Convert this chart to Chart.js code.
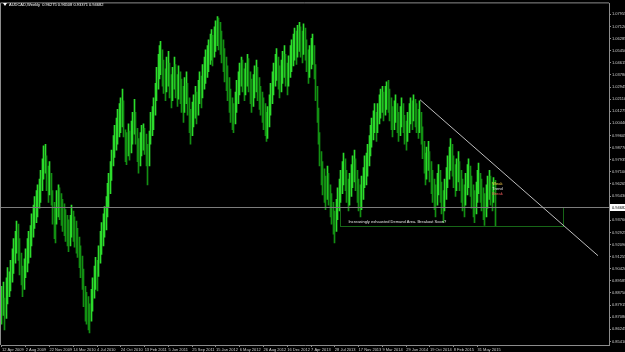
<!DOCTYPE html>
<html>
<head>
<meta charset="utf-8">
<script src="https://cdn.jsdelivr.net/npm/chart.js@4.4.1/dist/chart.umd.min.js"></script>
<style>
    html, body { margin: 0; padding: 0; background: #000; }
    canvas { display: block; }
</style>
</head>
<body>
<canvas id="audcadChart" width="625" height="352"></canvas>
<script>
// AUDCAD weekly, one entry per week starting 12 Apr 2009
const lows = [
    0.866, 0.872, 0.862, 0.870, 0.880, 0.885, 0.889, 0.895, 0.901, 0.908,
    0.915, 0.910, 0.900, 0.893, 0.885, 0.890, 0.898, 0.902, 0.908, 0.912,
    0.920, 0.926, 0.932, 0.936, 0.940, 0.946, 0.950, 0.958, 0.966, 0.970,
    0.958, 0.950, 0.955, 0.948, 0.935, 0.925, 0.922, 0.935, 0.940, 0.938,
    0.934, 0.930, 0.927, 0.923, 0.920, 0.916, 0.920, 0.926, 0.923, 0.919,
    0.915, 0.912, 0.905, 0.898, 0.890, 0.878, 0.868, 0.866, 0.862, 0.860,
    0.868, 0.875, 0.884, 0.890, 0.889, 0.899, 0.908, 0.914, 0.920, 0.926,
    0.931, 0.940, 0.947, 0.956, 0.965, 0.975, 0.981, 0.986, 0.990, 0.995,
    0.998, 1.002, 0.995, 0.978, 0.976, 0.982, 0.979, 0.984, 0.990, 0.997,
    0.990, 0.978, 0.970, 0.975, 0.982, 0.986, 0.983, 0.975, 0.962, 0.975,
    0.990, 0.996, 1.000, 1.010, 1.020, 1.028, 1.035, 1.038, 1.030, 1.025,
    1.020, 1.026, 1.030, 1.022, 1.015, 1.020, 1.028, 1.022, 1.016, 1.021,
    1.018, 1.012, 1.005, 1.012, 1.018, 1.010, 0.998, 0.990, 0.996, 1.002,
    1.008, 1.004, 1.010, 1.018, 1.015, 1.022, 1.028, 1.032, 1.036, 1.040,
    1.045, 1.048, 1.044, 1.050, 1.054, 1.058, 1.055, 1.052, 1.046, 1.040,
    1.033, 1.027, 1.020, 1.012, 1.005, 1.000, 0.998, 1.004, 1.012, 1.018,
    1.024, 1.030, 1.026, 1.020, 1.024, 1.030, 1.026, 1.018, 1.012, 1.016,
    1.022, 1.026, 1.020, 1.014, 1.010, 1.005, 1.000, 0.996, 0.992, 0.994,
    1.002, 1.010, 1.018, 1.024, 1.030, 1.034, 1.028, 1.022, 1.026, 1.032,
    1.036, 1.030, 1.024, 1.030, 1.036, 1.040, 1.044, 1.048, 1.045, 1.050,
    1.054, 1.050, 1.046, 1.052, 1.048, 1.040, 1.032, 1.036, 1.042, 1.045,
    1.035, 1.020, 1.005, 0.990, 0.975, 0.962, 0.955, 0.950, 0.945, 0.952,
    0.948, 0.940, 0.935, 0.928, 0.922, 0.930, 0.938, 0.944, 0.950, 0.956,
    0.962, 0.958, 0.950, 0.944, 0.948, 0.954, 0.960, 0.964, 0.958, 0.950,
    0.944, 0.940, 0.945, 0.952, 0.960, 0.962, 0.968, 0.975, 0.982, 0.988,
    0.993, 0.998, 0.992, 0.998, 1.004, 1.008, 1.012, 1.006, 1.010, 1.014,
    1.012, 1.006, 1.000, 0.995, 1.000, 1.005, 0.998, 0.992, 0.996, 1.002,
    0.998, 0.990, 0.986, 0.992, 0.998, 1.004, 1.000, 1.006, 1.002, 0.998,
    0.994, 0.998, 0.990, 0.980, 0.970, 0.962, 0.966, 0.972, 0.964, 0.956,
    0.950, 0.945, 0.940, 0.948, 0.955, 0.950, 0.942, 0.936, 0.944, 0.952,
    0.960, 0.966, 0.972, 0.968, 0.960, 0.954, 0.958, 0.964, 0.958, 0.950,
    0.944, 0.940, 0.948, 0.955, 0.960, 0.954, 0.946, 0.940, 0.936, 0.942,
    0.950, 0.956, 0.950, 0.944, 0.938, 0.934, 0.940, 0.946, 0.952, 0.948,
    0.944, 0.950, 0.93371
];
const highs = [
    0.892, 0.895, 0.884, 0.898, 0.905, 0.902, 0.910, 0.918, 0.925, 0.930,
    0.937, 0.935, 0.925, 0.915, 0.906, 0.911, 0.918, 0.925, 0.930, 0.934,
    0.942, 0.948, 0.954, 0.958, 0.962, 0.966, 0.972, 0.980, 0.989, 0.990,
    0.982, 0.975, 0.978, 0.970, 0.958, 0.950, 0.946, 0.958, 0.962, 0.960,
    0.956, 0.952, 0.949, 0.945, 0.941, 0.938, 0.941, 0.948, 0.944, 0.940,
    0.937, 0.932, 0.926, 0.920, 0.913, 0.904, 0.892, 0.888, 0.885, 0.880,
    0.890, 0.898, 0.906, 0.912, 0.910, 0.920, 0.930, 0.936, 0.942, 0.947,
    0.954, 0.963, 0.970, 0.978, 0.986, 0.996, 1.003, 1.008, 1.014, 1.018,
    1.022, 1.028, 1.020, 1.000, 0.998, 1.004, 0.999, 1.006, 1.012, 1.021,
    1.012, 1.001, 0.994, 0.998, 1.003, 1.004, 1.001, 0.997, 0.990, 0.999,
    1.012, 1.016, 1.022, 1.032, 1.043, 1.052, 1.058, 1.061, 1.055, 1.048,
    1.042, 1.050, 1.054, 1.046, 1.038, 1.043, 1.050, 1.045, 1.038, 1.044,
    1.040, 1.035, 1.030, 1.036, 1.040, 1.032, 1.022, 1.014, 1.019, 1.024,
    1.030, 1.026, 1.034, 1.040, 1.037, 1.045, 1.050, 1.055, 1.058, 1.062,
    1.066, 1.069, 1.065, 1.071, 1.075, 1.078, 1.077, 1.074, 1.068, 1.062,
    1.056, 1.050, 1.044, 1.036, 1.028, 1.022, 1.018, 1.026, 1.034, 1.040,
    1.046, 1.050, 1.048, 1.042, 1.046, 1.052, 1.049, 1.040, 1.035, 1.038,
    1.044, 1.048, 1.043, 1.036, 1.030, 1.026, 1.022, 1.018, 1.012, 1.016,
    1.024, 1.032, 1.040, 1.046, 1.052, 1.056, 1.050, 1.044, 1.048, 1.054,
    1.058, 1.052, 1.046, 1.051, 1.058, 1.062, 1.066, 1.070, 1.068, 1.072,
    1.074, 1.071, 1.068, 1.073, 1.070, 1.062, 1.055, 1.058, 1.063, 1.066,
    1.058, 1.045, 1.030, 1.015, 0.998, 0.985, 0.978, 0.973, 0.968, 0.975,
    0.970, 0.962, 0.956, 0.950, 0.944, 0.952, 0.960, 0.966, 0.972, 0.978,
    0.984, 0.980, 0.972, 0.966, 0.970, 0.976, 0.982, 0.986, 0.980, 0.972,
    0.966, 0.962, 0.968, 0.974, 0.982, 0.984, 0.990, 0.996, 1.003, 1.008,
    1.013, 1.018, 1.012, 1.018, 1.024, 1.028, 1.030, 1.026, 1.030, 1.033,
    1.034, 1.028, 1.022, 1.016, 1.020, 1.024, 1.018, 1.012, 1.016, 1.022,
    1.018, 1.010, 1.006, 1.012, 1.018, 1.022, 1.020, 1.024, 1.021, 1.018,
    1.014, 1.020, 1.012, 1.002, 0.992, 0.984, 0.988, 0.992, 0.985, 0.978,
    0.972, 0.966, 0.962, 0.970, 0.976, 0.972, 0.964, 0.958, 0.966, 0.974,
    0.982, 0.988, 0.994, 0.990, 0.982, 0.976, 0.980, 0.985, 0.978, 0.972,
    0.966, 0.962, 0.970, 0.976, 0.980, 0.975, 0.968, 0.962, 0.958, 0.964,
    0.972, 0.977, 0.970, 0.966, 0.960, 0.956, 0.962, 0.968, 0.972, 0.968,
    0.964, 0.967, 0.96508
];
const lastBar = { open: 0.96275, high: 0.96508, low: 0.93371, close: 0.94682 };

const dateLabels = ['12 Apr 2009', '2 Aug 2009', '22 Nov 2009', '14 Mar 2010', '4 Jul 2010',
    '24 Oct 2010', '13 Feb 2011', '5 Jun 2011', '25 Sep 2011', '15 Jan 2012', '6 May 2012',
    '26 Aug 2012', '16 Dec 2012', '7 Apr 2013', '28 Jul 2013', '17 Nov 2013', '9 Mar 2014',
    '29 Jun 2014', '19 Oct 2014', '8 Feb 2015', '31 May 2015'];
const weeksPerLabel = 16;

const priceTicks = [1.07955, 1.07120, 1.06285, 1.05450, 1.04615, 1.03780, 1.02945, 1.02110,
    1.01275, 1.00440, 0.99605, 0.98770, 0.97935, 0.97100, 0.96265, 0.95430, 0.94595, 0.93760,
    0.92925, 0.92090, 0.91255, 0.90420, 0.89585, 0.88750, 0.87915, 0.87080, 0.86245, 0.85410];

// drawings on the chart (week index, price)
const trendLine = [[281.3, 1.0207], [401.1, 0.9132]];
const demandBox = [[227.5, 0.9468], [377.5, 0.9337]];
const demandNote = 'Increasingly exhausted Demand Area. Breakout Soon?';
const signalNotes = ['Weak', 'Trend', 'Break'];

const FONT = '"Liberation Sans", Arial, sans-serif';

const bars = lows.map((lo, i) => ({ x: i, y: [lo, highs[i]] }));
const barColors = lows.map((lo, i) => {
    if (i === 0) return '#22d022';
    const mid = (lo + highs[i]) / 2, prev = (lows[i - 1] + highs[i - 1]) / 2;
    return mid >= prev ? '#2cdc2c' : '#139013';
});

// snap each 1px bar onto a whole pixel column, like the terminal does
const crispBars = {
    id: 'crispBars',
    beforeDatasetsDraw(chart) {
        chart.getDatasetMeta(0).data.forEach(el => { el.x = Math.floor(el.x) + 0.5; });
    }
};

const overlay = {
    id: 'overlay',
    afterDatasetsDraw(chart) {
        const { ctx, chartArea: a, scales: { x, y } } = chart;
        ctx.save();

        // frame
        ctx.strokeStyle = '#8c8c8c';
        ctx.lineWidth = 1;
        ctx.beginPath();
        ctx.moveTo(a.left - 0.5, a.bottom);
        ctx.lineTo(a.left - 0.5, a.top - 0.5);
        ctx.lineTo(a.right, a.top - 0.5);
        ctx.stroke();

        // demand rectangle
        const bx1 = Math.round(x.getPixelForValue(demandBox[0][0])) + 0.5;
        const bx2 = Math.round(x.getPixelForValue(demandBox[1][0])) + 0.5;
        const by1 = Math.round(y.getPixelForValue(demandBox[0][1])) + 0.5;
        const by2 = Math.round(y.getPixelForValue(demandBox[1][1])) + 0.5;
        ctx.strokeStyle = '#176617';
        ctx.strokeRect(bx1, by1, bx2 - bx1, by2 - by1);

        // bid line
        const bid = Math.round(y.getPixelForValue(lastBar.close)) + 0.5;
        ctx.strokeStyle = '#7d7d7d';
        ctx.beginPath();
        ctx.moveTo(a.left, bid);
        ctx.lineTo(a.right, bid);
        ctx.stroke();

        // trend line
        ctx.strokeStyle = '#bdbdbd';
        ctx.beginPath();
        ctx.moveTo(x.getPixelForValue(trendLine[0][0]), y.getPixelForValue(trendLine[0][1]));
        ctx.lineTo(x.getPixelForValue(trendLine[1][0]), y.getPixelForValue(trendLine[1][1]));
        ctx.stroke();

        // texts
        ctx.font = '4px ' + FONT;
        ctx.textBaseline = 'middle';
        ctx.textAlign = 'left';
        ctx.fillStyle = '#e6e6e6';
        ctx.fillText(demandNote, bx1 + 8, by2 - 5);

        const nx = x.getPixelForValue(lows.length - 1) - 3;
        const ny = y.getPixelForValue(lastBar.high) + 3;
        const noteColors = ['#ffd34d', '#e6e6e6', '#ff6060'];
        signalNotes.forEach((t, k) => {
            ctx.fillStyle = noteColors[k];
            ctx.fillText(t, nx, ny + k * 5);
        });

        // title
        ctx.fillStyle = '#ffffff';
        ctx.beginPath();
        ctx.moveTo(3, 3); ctx.lineTo(7, 3); ctx.lineTo(5, 6);
        ctx.fill();
        ctx.fillText('AUDCAD,Weekly  ' + [lastBar.open, lastBar.high, lastBar.low, lastBar.close]
            .map(v => v.toFixed(5)).join(' '), 9, 5);

        // current price tag
        ctx.fillStyle = '#ffffff';
        ctx.fillRect(a.right + 1, bid - 3.5, chart.width - a.right - 1, 7);
        ctx.fillStyle = '#000000';
        ctx.fillText(lastBar.close.toFixed(5), a.right + 3, bid);

        ctx.restore();
    }
};

new Chart(document.getElementById('audcadChart'), {
    type: 'bar',
    data: {
        datasets: [{
            data: bars,
            backgroundColor: barColors,
            borderWidth: 0,
            barThickness: 1
        }]
    },
    options: {
        responsive: false,
        animation: false,
        layout: { padding: { left: 1, top: 1, right: 0, bottom: 0 } },
        plugins: {
            legend: { display: false },
            tooltip: { enabled: false }
        },
        scales: {
            x: {
                type: 'linear',
                offset: false,
                min: -0.67,
                max: 408.5,
                afterBuildTicks: scale => {
                    scale.ticks = dateLabels.map((_, k) => ({ value: k * weeksPerLabel }));
                },
                afterFit: scale => { scale.height = 7; },
                grid: { display: true, offset: false, drawOnChartArea: false, drawTicks: true, tickLength: 2, color: '#8c8c8c' },
                border: { display: true, color: '#8c8c8c' },
                ticks: {
                    autoSkip: false,
                    maxRotation: 0,
                    align: 'start',
                    padding: 0,
                    color: '#cfcfcf',
                    font: { size: 4, family: FONT },
                    callback: (v, i) => dateLabels[i]
                }
            },
            y: {
                type: 'linear',
                position: 'right',
                min: 0.85165,
                max: 1.08708,
                afterBuildTicks: scale => {
                    scale.ticks = priceTicks.map(v => ({ value: v }));
                },
                afterFit: scale => { scale.width = 16; },
                grid: { display: true, drawOnChartArea: false, drawTicks: true, tickLength: 2, color: '#8c8c8c' },
                border: { display: true, color: '#8c8c8c' },
                ticks: {
                    autoSkip: false,
                    padding: 1,
                    color: '#cfcfcf',
                    font: { size: 4, family: FONT },
                    callback: v => v.toFixed(5)
                }
            }
        }
    },
    plugins: [crispBars, overlay]
});
</script>
</body>
</html>
